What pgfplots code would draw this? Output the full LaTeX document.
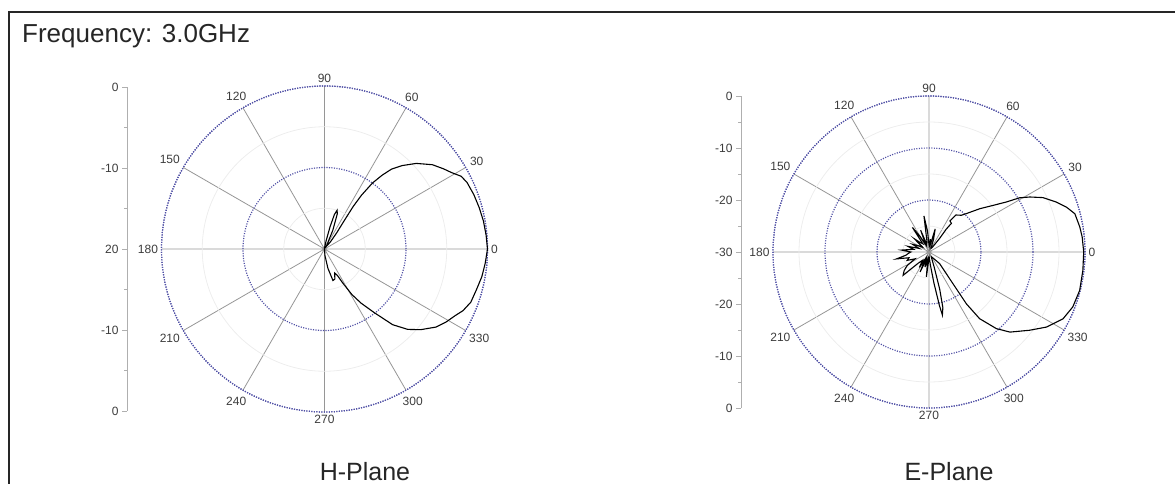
\documentclass[border=0pt]{standalone}
\usepackage{fontspec}
\setmainfont{Liberation Sans}
\usepackage{pgfplots}
\pgfplotsset{compat=1.18}
\usepgfplotslibrary{polar}
\definecolor{circblue}{RGB}{80,80,165}
\definecolor{spoke}{RGB}{150,150,150}
\definecolor{scalegray}{RGB}{175,175,175}
\definecolor{lbl}{RGB}{60,60,60}
\pgfplotsset{
  polstyle/.style={
    scale only axis, clip=false,
    xtick={0,30,...,330},
    xticklabels={0,30,60,90,120,150,180,210,240,270,300,330},
    xticklabel style={font=\fontsize{12}{14}\selectfont, text=lbl},
    yticklabels={},
    xmajorgrids, ymajorgrids, yminorgrids,
    major x grid style={spoke, line width=0.8pt},
    major y grid style={circblue, line width=1.2pt, dash pattern=on 1.1pt off 1.4pt},
    minor y grid style={black!7, line width=0.8pt},
    axis line style={circblue, line width=1.2pt, dash pattern=on 1.1pt off 1.4pt},
    y axis line style={draw=none},
    major tick length=0pt, minor tick length=0pt,
  },
  scalestyle/.style={
    scale only axis, width=10pt,
    axis x line=none, axis y line*=left,
    xmin=0, xmax=1, xtick=\empty,
    tick align=outside, ytick pos=left,
    major tick length=5pt, minor tick length=3pt,
    axis line style={scalegray, line width=0.8pt},
    tick style={scalegray, line width=0.8pt},
    yticklabel style={font=\fontsize{12}{14}\selectfont, text=lbl},
  }
}
\begin{document}
\begin{tikzpicture}
\useasboundingbox (0pt,0pt) rectangle (1175pt,-484pt);
\draw[line width=2pt, black!85] (9pt,-484pt) -- (9pt,-12pt) -- (1176pt,-12pt);
\node[anchor=base west, font=\fontsize{26}{30}\selectfont, text=black!85, inner sep=0pt] at (22pt,-43pt) {Frequency: 3.0GHz};
\node[anchor=base, font=\fontsize{25}{30}\selectfont, text=black!85, inner sep=0pt] at (365pt,-480pt) {H-Plane};
\node[anchor=base, font=\fontsize{25}{30}\selectfont, text=black!85, inner sep=0pt] at (949pt,-480pt) {E-Plane};

% H-plane (radius = dB + 20)
\begin{polaraxis}[polstyle, width=326pt, height=326pt, at={(324.5pt,-249pt)}, anchor=center,
  ymin=0, ymax=20, ytick={10,20}, minor ytick={5,15}]
\addplot[black, line width=1.1pt] coordinates {
(-90,0) (-86,0.8) (-80,2.4) (-75,4.0) (-71,3.9) (-67,3.2) (-64,3.6) (-62,4.6)
(-59,6.5) (-56,8.0) (-52,9.9) (-48,12.5) (-44,14.2) (-40,15.4) (-35,16.7)
(-31,17.4) (-27,18.0) (-24,18.6) (-20,19.1) (-15,19.3) (-10,19.6) (-5,19.8)
(0,20.0) (5,19.9) (10,19.8) (15,19.65) (20,19.5) (25,19.3) (28,19.0) (31,18.2)
(34,17.6) (38,16.8) (43,15.4) (47,14.0) (50,12.8) (52,11.5) (54,10.0) (55.5,8.0)
(56,6.3) (55,4.0) (53,2.5) (50,1.1) (55,0.4) (62,0.8) (66,2.5) (70,4.6) (72,5.0)
(74,4.4) (76,2.8) (79,1.0) (84,0.2) (90,0) (180,0) (270,0)
};
\end{polaraxis}
\begin{axis}[scalestyle, height=324pt, at={(127pt,-249pt)}, anchor=west,
  ymin=-20, ymax=20, ytick={-20,-10,0,10,20}, yticklabels={0,-10,20,-10,0},
  minor ytick={-15,-5,5,15}]
\end{axis}

% E-plane (radius = dB + 30)
\begin{polaraxis}[polstyle, width=312pt, height=312pt, at={(929pt,-252pt)}, anchor=center,
  ymin=0, ymax=30, ytick={10,20,30}, minor ytick={5,15,25}]
\addplot[black, line width=1.1pt] coordinates {
(0,29.75) (5.6,29.6) (9.4,29.4) (14.7,29.0) (18.1,27.8) (21.4,26.3) (25.5,24.3)
(28.6,22.1) (30.9,20.3) (32.9,17.7) (36.1,15.2) (40.5,12.8) (45.8,10.3) (48.7,9.4)
(54,8.8) (56,7.2) (52,7.0) (53,5.5) (52,3.3) (55,1.0)
(62,0.8) (70,2.5) (75,4.6) (79,1.5) (84,2.5) (88,1.0) (94,4.0) (98,7.0) (101,2.0)
(106,1.5) (111,4.5) (114,1.5) (120,3.5) (124,5.7) (127,2.0) (133,2.5) (138,3.8)
(143,1.5) (150,2.5) (155,3.5) (160,2.0) (165,4.2) (170,3.0) (176,5.3) (180,3.5)
(184,4.0) (188,4.5) (192,6.4) (196,4.0) (201,4.5) (206,3.0) (212,5.0) (217,6.0)
(222,6.7) (226,3.0) (232,2.0) (238,3.5) (242,1.5) (246,4.2) (250,1.5) (255,3.0)
(260,1.5) (264,4.8) (268,1.5) (272,1.0) (276,2.5) (279,6.0) (281,10.5) (282,12.4)
(284,11.0) (286,7.5) (289,3.0) (295,1.0) (305,1.5) (312.4,3.0) (307.1,7.6)
(305.8,12.3) (307.2,16.1) (311.3,19.6) (315.3,21.9) (322.1,24.5) (327.4,26.8)
(333.5,28.8) (339.1,29.6) (345.7,29.9) (353.2,29.8) (360,29.75)
};
\end{polaraxis}
\begin{axis}[scalestyle, height=312pt, at={(741pt,-252pt)}, anchor=west,
  ymin=-30, ymax=30, ytick={-30,-20,-10,0,10,20,30}, yticklabels={0,-10,-20,-30,-20,-10,0},
  minor ytick={-25,-15,-5,5,15,25}]
\end{axis}
\end{tikzpicture}
\end{document}
